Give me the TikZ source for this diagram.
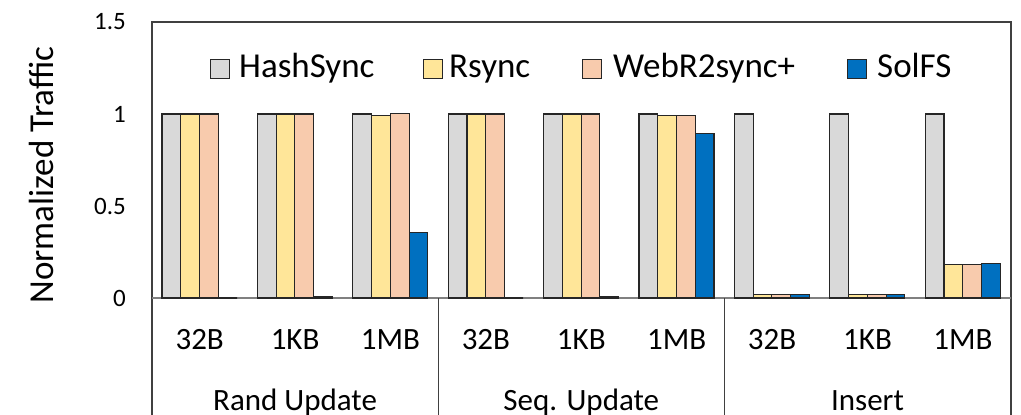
\documentclass[tikz,border=0pt]{standalone}
\usepackage{fontspec}
\setmainfont{Carlito}
\definecolor{cHash}{HTML}{D9D9D9}
\definecolor{cRsync}{HTML}{FFE699}
\definecolor{cWeb}{HTML}{F8CBAD}
\definecolor{cSol}{HTML}{0070C0}
\definecolor{frameclr}{HTML}{404040}
\definecolor{baseclr}{HTML}{808080}
\begin{document}
\begin{tikzpicture}[x=1pt,y=-1pt,
  bar/.style={draw=black!85,line width=1.1pt},
  frameline/.style={draw=frameclr,line width=1.3pt},
  baseline/.style={draw=baseclr,line width=1.3pt},
  swatch/.style={draw=black!85,line width=1.1pt,minimum size=19pt,inner sep=0pt},
  legtext/.style={font=\fontsize{35}{42}\selectfont,anchor=base west,inner sep=0pt},
  ticklab/.style={font=\fontsize{25}{30}\selectfont,anchor=east,inner sep=0pt},
  catlab/.style={font=\fontsize{31}{37}\selectfont,inner sep=0pt},
  grouplab/.style={font=\fontsize{31}{37}\selectfont,anchor=base,inner sep=0pt}]
\useasboundingbox (0,0) rectangle (1021,415);

% plot frame and zero line
\draw[frameline] (152,415) -- (152,22) -- (1011,22) -- (1011,415);
\draw[baseline] (152,298) -- (1011,298);
\draw[frameline] (438.2,298) -- (438.2,415);
\draw[frameline] (724.4,298) -- (724.4,415);

% bars: HashSync / Rsync / WebR2sync+ / SolFS per cluster
\def\bw{18.75}
\foreach \a/\b/\c/\d [count=\k from 0] in
  {1/1/1/0, 1/1/1/0.006, 1/0.99/1.005/0.357,
   1/1/1/0, 1/1/1/0.006, 1/0.99/0.99/0.895,
   1/0.02/0.02/0.02, 1/0.02/0.02/0.02, 1/0.18/0.18/0.187}{
  \pgfmathsetmacro\x{152+95.4*\k+10}
  \filldraw[bar,fill=cHash]  (\x,298) rectangle ({\x+\bw},{298-184*\a});
  \filldraw[bar,fill=cRsync] ({\x+\bw},298) rectangle ({\x+2*\bw},{298-184*\b});
  \filldraw[bar,fill=cWeb]   ({\x+2*\bw},298) rectangle ({\x+3*\bw},{298-184*\c});
  \filldraw[bar,fill=cSol]   ({\x+3*\bw},298) rectangle ({\x+4*\bw},{298-184*\d});
}

% y axis
\node[ticklab] (t15) at (126,22) {1.5};
\node[ticklab] (t10) at (126,114) {1};
\node[ticklab] (t05) at (126,206) {0.5};
\node[ticklab] (t00) at (126,298) {0};
\node[font=\fontsize{35}{42}\selectfont,rotate=90,inner sep=0pt] (ylab) at (41,175) {Normalized Traffic};

% legend
\node[swatch,fill=cHash]  (sw1) at (220,69) {};
\node[legtext] (lg1) at (239,77) {HashSync};
\node[swatch,fill=cRsync] (sw2) at (433,69) {};
\node[legtext] (lg2) at (449,77) {Rsync};
\node[swatch,fill=cWeb]   (sw3) at (592,69) {};
\node[legtext] (lg3) at (613,77) {WebR2sync+};
\node[swatch,fill=cSol]   (sw4) at (857,69) {};
\node[legtext] (lg4) at (877,77) {SolFS};

% category labels
\foreach \lab [count=\k from 0] in {32B,1KB,1MB,32B,1KB,1MB,32B,1KB,1MB}{
  \node[catlab] (cat\k) at ({152+95.4*(\k+0.5)},340) {\lab};
}
\node[grouplab] (g1) at (295.1,410) {Rand Update};
\node[grouplab] (g2) at (581.3,410) {Seq. Update};
\node[grouplab] (g3) at (867.5,410) {Insert};
\end{tikzpicture}
\end{document}
